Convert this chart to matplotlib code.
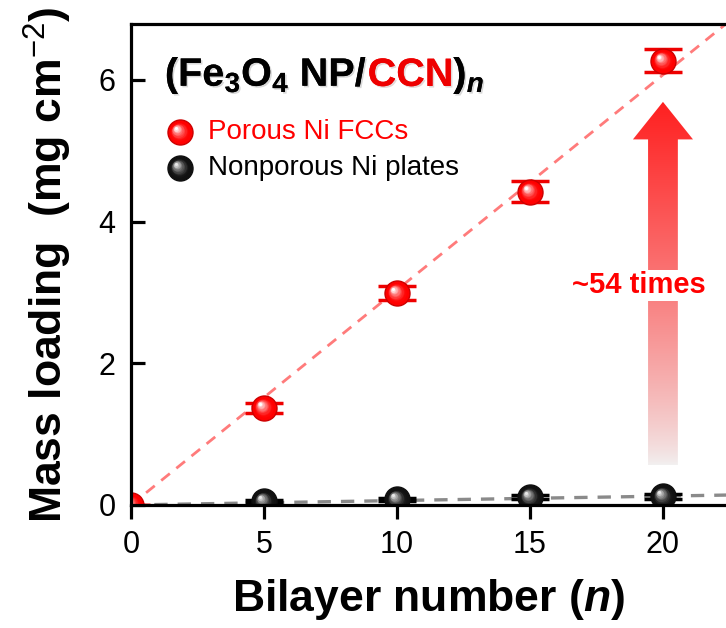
import numpy as np
import matplotlib
matplotlib.use("Agg")
import matplotlib.pyplot as plt
import matplotlib.transforms as mtransforms
import matplotlib.patheffects as pe
from matplotlib.colors import to_rgb
from matplotlib.patches import Polygon
from matplotlib.offsetbox import TextArea, HPacker, AnnotationBbox

plt.rcParams['font.family'] = ['Liberation Sans', 'DejaVu Sans']
plt.rcParams['mathtext.fontset'] = 'custom'
plt.rcParams['mathtext.rm'] = 'Liberation Sans'
plt.rcParams['mathtext.bf'] = 'Liberation Sans:bold'
plt.rcParams['mathtext.it'] = 'Liberation Sans:bold:italic'

# bilayer number vs. mass loading (mg cm^-2)
bilayers = [0, 5, 10, 15, 20]
porous_load = [0.0, 1.37, 2.99, 4.42, 6.27]
porous_err = [0.0, 0.07, 0.10, 0.15, 0.16]
plate_n = [5, 10, 15, 20]
plate_load = [0.05, 0.08, 0.11, 0.12]
plate_err = [0.02, 0.02, 0.03, 0.03]

# linear guide lines
porous_fit_x = [0, 22.4]
porous_fit_y = [0, 6.8]
plate_fit_x = [0, 22.4]
plate_fit_y = [0, 0.14]

xticks = [0, 5, 10, 15, 20]
yticks = [0, 2, 4, 6]

fig = plt.figure(figsize=(7.26, 6.28), dpi=100)
ax = fig.add_axes([0.1804, 0.1959, 0.8196, 0.766])
ax.set_xlim(0, 22.37)
ax.set_ylim(0, 6.79)


def sphere(ax, xs, ys, color, ms, z, trans=None, hi='white', clip=True):
    """Shaded ball marker: base disc plus shrinking, lighter discs offset up-left."""
    if trans is None:
        trans = ax.transData
    base = np.array(to_rgb(color))
    top = np.array(to_rgb(hi))
    ax.plot(xs, ys, 'o', ms=ms, color=base, mec=base * 0.8, mew=1,
            transform=trans, zorder=z, clip_on=clip)
    steps = 10
    for i in range(1, steps + 1):
        f = i / steps
        size = ms * (0.8 - 0.68 * f)
        col = base * (1 - f ** 1.6) + top * f ** 1.6
        off = ms * 0.16 * f
        tr = mtransforms.offset_copy(trans, fig=fig, x=-off, y=off, units='points')
        ax.plot(xs, ys, 'o', ms=size, color=col, mew=0, transform=tr,
                zorder=z + 0.01 * i, clip_on=clip)


# guide lines
ax.plot(porous_fit_x, porous_fit_y, '--', color='#ff7b7b', lw=2, dashes=(4, 3), zorder=2)
ax.plot(plate_fit_x, plate_fit_y, '--', color='#8a8a8a', lw=2.4, dashes=(4, 3), zorder=2)

# error bars
ax.errorbar(plate_n, plate_load, yerr=plate_err, fmt='none', ecolor='black',
            elinewidth=2, capsize=14, capthick=2.5, zorder=3)
ax.errorbar(bilayers, porous_load, yerr=porous_err, fmt='none', ecolor='#ee0000',
            elinewidth=2, capsize=14, capthick=2.5, zorder=3)

sphere(ax, plate_n, plate_load, '#111111', 18, 4, hi='#e8e8e8')
sphere(ax, bilayers, porous_load, '#ff0000', 18, 5, hi='white')

# gradient arrow
arrow_x = 20.0
arrow_bottom, arrow_head, arrow_tip = 0.56, 5.16, 5.69
shaft_hw, head_hw = 0.56, 1.13
arrow_poly = [(arrow_x - shaft_hw, arrow_bottom), (arrow_x + shaft_hw, arrow_bottom),
              (arrow_x + shaft_hw, arrow_head), (arrow_x + head_hw, arrow_head),
              (arrow_x, arrow_tip), (arrow_x - head_hw, arrow_head),
              (arrow_x - shaft_hw, arrow_head)]
clip = Polygon(arrow_poly, closed=True, transform=ax.transData, facecolor='none', edgecolor='none')
ax.add_patch(clip)
grad = np.linspace(0, 1, 256)[:, None]
c_bot = np.array(to_rgb('#f2f0f0'))
c_top = np.array(to_rgb('#ff2020'))
img = c_bot[None, None, :] * (1 - grad[..., None] ** 0.8) + c_top[None, None, :] * grad[..., None] ** 0.8
img = np.repeat(img, 2, axis=1)
im = ax.imshow(img, origin='lower', aspect='auto', interpolation='bilinear',
               extent=[arrow_x - head_hw, arrow_x + head_hw, arrow_bottom, arrow_tip], zorder=1)
im.set_clip_path(clip)

ax.text(19.1, 3.1, '~54 times', color='#ff0000', fontsize=21, fontweight='bold',
        ha='center', va='center', zorder=6,
        bbox=dict(facecolor='white', edgecolor='none', pad=1))

# title with coloured CCN
shadow = [pe.withSimplePatchShadow(offset=(1.2, -1.2), alpha=0.15), pe.Normal()]
title_parts = [
    TextArea(r'(Fe$_\mathbf{3}$O$_\mathbf{4}$ NP/',
             textprops=dict(fontsize=28.5, fontweight='bold', color='black', path_effects=shadow)),
    TextArea('CCN', textprops=dict(fontsize=28.5, fontweight='bold', color='#ee0000', path_effects=shadow)),
    TextArea(r')$_n$', textprops=dict(fontsize=28.5, fontweight='bold', color='black', path_effects=shadow)),
]
title_box = HPacker(children=title_parts, align='baseline', pad=0, sep=0)
ax.add_artist(AnnotationBbox(title_box, (0.057, 0.894), xycoords='axes fraction',
                             box_alignment=(0, 0.5), frameon=False, zorder=7))

# legend
leg_x = 0.082
sphere(ax, [leg_x], [0.775], '#ff0000', 18, 8, trans=ax.transAxes, clip=False)
sphere(ax, [leg_x], [0.700], '#111111', 18, 8, trans=ax.transAxes, hi='#e8e8e8', clip=False)
ax.text(0.129, 0.775, 'Porous Ni FCCs', color='#ff0000', fontsize=20,
        transform=ax.transAxes, va='center', ha='left')
ax.text(0.129, 0.700, 'Nonporous Ni plates', color='black', fontsize=20,
        transform=ax.transAxes, va='center', ha='left')

# axes styling
for side in ['left', 'bottom', 'top']:
    ax.spines[side].set_linewidth(2.3)
    ax.spines[side].set_zorder(6)
ax.spines['right'].set_visible(False)
ax.set_xticks(xticks)
ax.set_yticks(yticks)
ax.tick_params(axis='x', direction='out', length=10, width=2.3, pad=8, labelsize=22)
ax.tick_params(axis='y', direction='in', length=10, width=2.3, pad=11, labelsize=22)
ax.set_xlabel('Bilayer number ($n$)', fontsize=32, fontweight='bold', labelpad=12)
ax.set_ylabel(r'Mass loading  (mg cm$^{\mathrm{-2}}$)', fontsize=32, fontweight='bold', labelpad=18)

fig.savefig('out.png', dpi=100)
